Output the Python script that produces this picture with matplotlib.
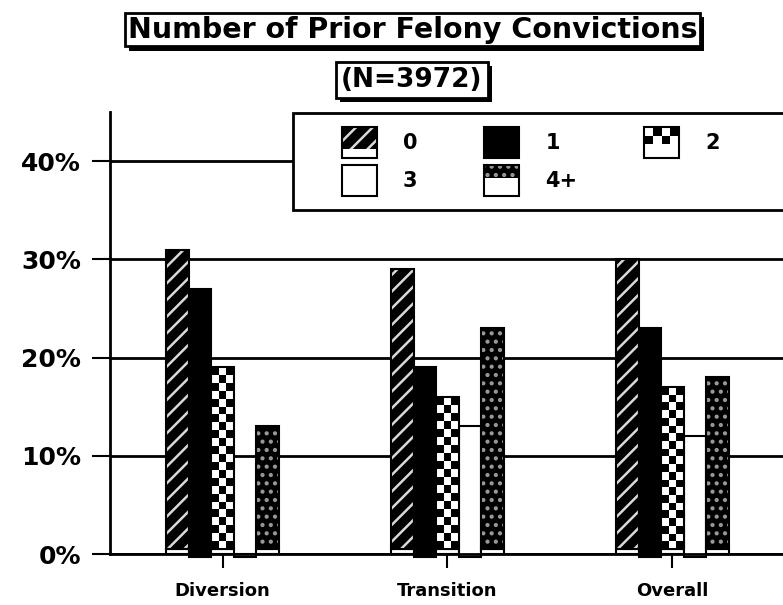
import numpy as np
import matplotlib.pyplot as plt
import matplotlib.patheffects as pe
from matplotlib.patches import Rectangle, Patch
from matplotlib.legend_handler import HandlerBase

groups = ["Diversion", "Transition", "Overall"]
series = ["0", "1", "2", "3", "4+"]
pct_0 = [31, 29, 30]
pct_1 = [27, 19, 23]
pct_2 = [19, 16, 17]
pct_3 = [0, 13, 12]
pct_4plus = [13, 23, 18]
yticks = [0, 10, 20, 30, 40]

plt.rcParams['font.family'] = 'DejaVu Sans'
plt.rcParams['font.weight'] = 'bold'
plt.rcParams['hatch.linewidth'] = 1.8

fig = plt.figure(figsize=(7.83, 6.05), dpi=100)
ax = fig.add_axes([110 / 783, 51 / 605, 675 / 783, 442 / 605])

x = np.arange(len(groups))
w = 0.1
base = 0.55   # white strip under patterned bars
drop = 0.35   # solid bars sink a bit under the baseline
lw = 1.5

def patterned(xs, vals, **kw):
    vals = np.array(vals, dtype=float)
    ax.bar(xs, base, width=w, color='white', edgecolor='black', lw=lw, zorder=2)
    bars = ax.bar(xs, vals - base, bottom=base, width=w, lw=0, zorder=2, **kw)
    ax.bar(xs, vals - base, bottom=base, width=w, fill=False, edgecolor='black', lw=lw, zorder=3)
    return bars

# 0 : diagonal stripes
patterned(x - 0.2, pct_0, color='black', edgecolor='0.85', hatch='//')

# 1 : solid black
ax.bar(x - 0.1, np.array(pct_1) + drop, bottom=-drop, width=w, color='black',
       edgecolor='black', lw=lw, zorder=2, clip_on=False)

# 2 : checkerboard
bars2 = patterned(x, pct_2, color='white')
for b in bars2:
    h = b.get_height()
    n = max(1, int(round(h / 0.8)))
    img = np.indices((n, 3)).sum(0) % 2
    ax.imshow(img, cmap='gray', extent=[b.get_x(), b.get_x() + b.get_width(), b.get_y(), b.get_y() + h],
              origin='upper', aspect='auto', interpolation='nearest', zorder=2.5)

# 3 : white
ax.bar(x + 0.1, np.array(pct_3) + drop, bottom=-drop, width=w, color='white',
       edgecolor='black', lw=lw, zorder=2, clip_on=False)

# 4+ : dotted
patterned(x + 0.2, pct_4plus, color='black', edgecolor='0.6', hatch='..')

ax.set_xlim(-0.5, 2.5)
ax.set_ylim(0, 45)
ax.set_aspect('auto')
ax.set_axisbelow(True)
ax.yaxis.grid(True, color='black', lw=2)
ax.set_yticks(yticks)
ax.set_yticklabels([f"{v}%" for v in yticks])
ax.set_xticks(x)
ax.set_xticklabels(groups)
ax.tick_params(axis='y', length=13, width=1.5, pad=8, labelsize=18)
ax.tick_params(axis='x', length=10, width=1.5, pad=10, labelsize=13)
for s in ['top', 'right']:
    ax.spines[s].set_visible(False)
for s in ['left', 'bottom']:
    ax.spines[s].set_linewidth(2)


class PatternHandler(HandlerBase):
    def __init__(self, kind):
        super().__init__()
        self.kind = kind

    def create_artists(self, legend, orig_handle, xdescent, ydescent, width, height, fontsize, trans):
        x0, y0 = -xdescent, -ydescent
        frac = {'0': 0.72, '1': 1.0, '2': 0.55, '3': 0.0, '4+': 0.42}[self.kind]
        arts = [Rectangle((x0, y0), width, height, fc='white', ec='none', transform=trans)]
        th = height * frac
        ty = y0 + height - th
        if self.kind == '0':
            arts.append(Rectangle((x0, ty), width, th, fc='black', ec='0.85', hatch='//', lw=0, transform=trans))
        elif self.kind == '1':
            arts.append(Rectangle((x0, ty), width, th, fc='black', lw=0, transform=trans))
        elif self.kind == '2':
            cw, ch = width / 4, th / 2
            for r in range(2):
                for c in range(4):
                    if (r + c) % 2 == 0:
                        arts.append(Rectangle((x0 + c * cw, ty + r * ch), cw, ch, fc='black', lw=0, transform=trans))
        elif self.kind == '4+':
            arts.append(Rectangle((x0, ty), width, th, fc='black', ec='0.6', hatch='..', lw=0, transform=trans))
        arts.append(Rectangle((x0, y0), width, height, fill=False, ec='black', lw=lw, transform=trans))
        return arts


# legend frame (runs off the right edge)
ax.add_patch(Rectangle((183 / 675, (554 - 210) / 442), 1.0, 97 / 442, transform=ax.transAxes,
                       fc='white', ec='black', lw=2, zorder=4, clip_on=False))

order = ["0", "3", "1", "4+", "2"]
handles = [Patch(label=s) for s in order]
leg = ax.legend(handles, order, ncol=3, loc='upper left',
                bbox_to_anchor=((342 - 110) / 675, (554 - 127) / 442),
                frameon=False, borderpad=0, borderaxespad=0,
                handlelength=1.68, handleheight=1.92, handletextpad=1.25,
                labelspacing=0.34, columnspacing=3.2,
                prop={'size': 15, 'weight': 'bold'},
                handler_map={h: PatternHandler(s) for h, s in zip(handles, order)})
leg.set_zorder(5)

shadow = [pe.SimplePatchShadow(offset=(3, -3), shadow_rgbFace='black', alpha=1), pe.Normal()]
t1 = fig.text(0.527, 0.951, "Number of Prior Felony Convictions", ha='center', va='center',
              fontsize=20.5, fontweight='bold',
              bbox=dict(boxstyle='square,pad=0.1', fc='white', ec='black', lw=2))
t1.get_bbox_patch().set_path_effects(shadow)
t2 = fig.text(0.526, 0.868, "(N=3972)", ha='center', va='center', fontsize=19, fontweight='bold',
              bbox=dict(boxstyle='square,pad=0.2', fc='white', ec='black', lw=2))
t2.get_bbox_patch().set_path_effects(shadow)

fig.savefig('out.png', dpi=100)
